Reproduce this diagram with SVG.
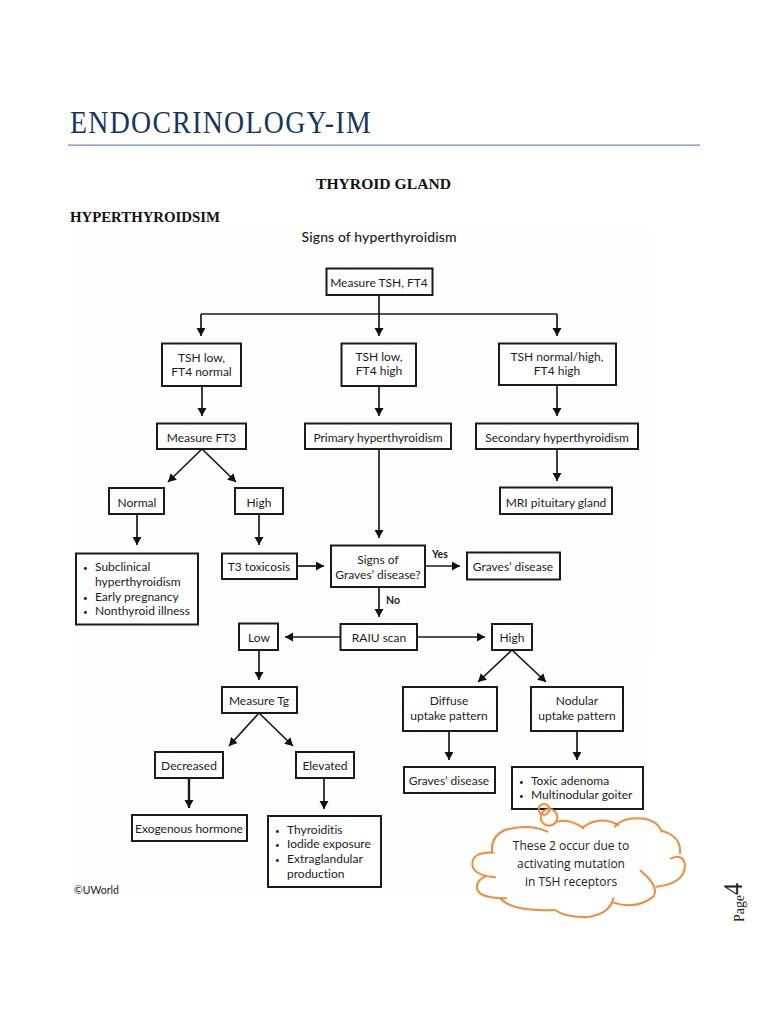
<svg xmlns="http://www.w3.org/2000/svg" width="768" height="1024" viewBox="0 0 768 1024">
<defs>
<marker id="ah" markerUnits="userSpaceOnUse" markerWidth="10" markerHeight="10" refX="8" refY="4.5" orient="auto"><path d="M0,0L8,4.5L0,9Z" fill="#111"/></marker>
</defs>
<style>
.b{fill:#fff;stroke:#1a1a1a;stroke-width:2}
.t{font-family:"Lato","Open Sans",sans-serif;font-size:12px;fill:#1c1c1c;text-anchor:middle;font-variant-ligatures:none;transform:translateY(.7px)}
.l{text-anchor:start}
.d{font-size:8px}
.y{font-weight:700;font-size:10.500px;text-anchor:start}
.c{fill:none;stroke:#1a1a1a;stroke-width:1.7;marker-end:url(#ah)}
.n{fill:none;stroke:#1a1a1a;stroke-width:1.7}
.h{font-family:"Liberation Serif",serif;font-weight:700;font-size:15px;fill:#111}
.o{fill:none;stroke:#f28c38;stroke-width:6;stroke-linecap:round}
</style>
<rect width="768" height="1024" fill="#fff"/>
<path d="M70 228H654V654H650V899H70Z" fill="#fefefe"/>
<text x="70" y="133" font-family="Liberation Serif,serif" font-size="32" fill="#17365d" style="letter-spacing:1.500px" textLength="302" lengthAdjust="spacingAndGlyphs">ENDOCRINOLOGY-IM</text>
<rect x="68" y="144.500" width="632" height="1.300" fill="#6f94c4"/>
<text class="h" x="316" y="189" textLength="135" lengthAdjust="spacingAndGlyphs">THYROID GLAND</text>
<text class="h" x="70" y="222" textLength="150" lengthAdjust="spacingAndGlyphs">HYPERTHYROIDSIM</text>
<text class="t" x="379" y="241" style="font-size:14px;font-weight:500" textLength="155">Signs of hyperthyroidism</text>
<g id="connectors">
<path class="n" d="M379 295V314M201 314H557"/>
<path class="c" d="M201 314V336"/><path class="c" d="M379 314V336"/><path class="c" d="M557 314V336"/>
<path class="c" d="M202 386V416"/><path class="c" d="M379 386V416"/><path class="c" d="M557 385V416"/>
<path class="c" d="M202 449L168 482"/><path class="c" d="M202 449L236 482"/>
<path class="c" d="M557 449V481"/>
<path class="c" d="M137 514V545"/><path class="c" d="M259 514V545"/>
<path class="c" d="M379 449V538"/>
<path class="c" d="M297 566H324"/><path class="c" d="M425 566H460"/>
<path class="c" d="M379 587V617"/>
<path class="c" d="M340 637H285"/><path class="c" d="M417 637H485"/>
<path class="c" d="M259 650V680"/>
<path class="c" d="M512 650L478 682"/><path class="c" d="M512 650L546 682"/>
<path class="c" d="M259 713L229 746"/><path class="c" d="M259 713L293 746"/>
<path class="c" d="M449 731V760"/><path class="c" d="M577 731V760"/>
<path class="c" d="M189 778V808" style="stroke-width:2.400"/><path class="c" d="M324 778V809"/>
</g>
<g id="n1"><rect class="b" x="326.500" y="268.500" width="106" height="26.500"/><text class="t" x="379" y="286">Measure TSH, FT4</text></g>
<g id="n2"><rect class="b" x="162" y="343.500" width="79" height="42.500"/><text class="t" x="201.500" y="361">TSH low,</text><text class="t" x="201.500" y="375">FT4 normal</text></g>
<g id="n3"><rect class="b" x="341.500" y="343.500" width="74.500" height="42.500"/><text class="t" x="379" y="360">TSH low,</text><text class="t" x="379" y="374">FT4 high</text></g>
<g id="n4"><rect class="b" x="499" y="343.500" width="117" height="41.500"/><text class="t" x="557" y="360">TSH normal/high,</text><text class="t" x="557" y="374">FT4 high</text></g>
<g id="n5"><rect class="b" x="157" y="423.500" width="89" height="25.500"/><text class="t" x="201.500" y="441">Measure FT3</text></g>
<g id="n6"><rect class="b" x="305" y="423.500" width="146" height="25.500"/><text class="t" x="378" y="441">Primary hyperthyroidism</text></g>
<g id="n7"><rect class="b" x="476" y="423.500" width="162" height="25.500"/><text class="t" x="557" y="441">Secondary hyperthyroidism</text></g>
<g id="n8"><rect class="b" x="109" y="488" width="55" height="26"/><text class="t" x="137" y="506">Normal</text></g>
<g id="n9"><rect class="b" x="235" y="488" width="48" height="26"/><text class="t" x="259" y="506">High</text></g>
<g id="n10"><rect class="b" x="500" y="487.500" width="112" height="26.500"/><text class="t" x="556" y="506">MRI pituitary gland</text></g>
<g id="n11"><rect class="b" x="76" y="553.500" width="122" height="71"/><text class="t l d" x="83" y="570">•</text><text class="t l" x="95" y="570">Subclinical</text><text class="t l" x="95" y="585">hyperthyroidism</text><text class="t l d" x="83" y="600">•</text><text class="t l" x="95" y="600">Early pregnancy</text><text class="t l d" x="83" y="614">•</text><text class="t l" x="95" y="614">Nonthyroid illness</text></g>
<g id="n12"><rect class="b" x="222" y="553.500" width="75" height="25.500"/><text class="t" x="259" y="570">T3 toxicosis</text></g>
<g id="n13"><rect class="b" x="331" y="545.500" width="94" height="41.500"/><text class="t" x="378" y="563">Signs of</text><text class="t" x="378" y="578">Graves’ disease?</text></g>
<text class="t y" x="432" y="557">Yes</text>
<text class="t y" x="386" y="603">No</text>
<g id="n14"><rect class="b" x="467" y="552.500" width="93" height="27"/><text class="t" x="513" y="570">Graves’ disease</text></g>
<g id="n15"><rect class="b" x="239" y="623.500" width="39" height="26.500"/><text class="t" x="259" y="641">Low</text></g>
<g id="n16"><rect class="b" x="340.500" y="624" width="76.500" height="26"/><text class="t" x="379" y="641">RAIU scan</text></g>
<g id="n17"><rect class="b" x="492" y="624" width="40" height="26"/><text class="t" x="512" y="641">High</text></g>
<g id="n18"><rect class="b" x="222" y="687" width="75" height="26"/><text class="t" x="259" y="704">Measure Tg</text></g>
<g id="n19"><rect class="b" x="403" y="687" width="94" height="44"/><text class="t" x="449" y="704">Diffuse</text><text class="t" x="449" y="719">uptake pattern</text></g>
<g id="n20"><rect class="b" x="531" y="687" width="92" height="44"/><text class="t" x="577" y="704">Nodular</text><text class="t" x="577" y="719">uptake pattern</text></g>
<g id="n21"><rect class="b" x="155" y="752" width="68" height="26"/><text class="t" x="189" y="769">Decreased</text></g>
<g id="n22"><rect class="b" x="296" y="752" width="58" height="26"/><text class="t" x="325" y="769">Elevated</text></g>
<g id="n23"><rect class="b" x="404" y="767" width="91" height="26"/><text class="t" x="449" y="784">Graves’ disease</text></g>
<g id="n24"><rect class="b" x="512" y="767" width="131" height="42"/><text class="t l d" x="519" y="784">•</text><text class="t l" x="531" y="784">Toxic adenoma</text><text class="t l d" x="519" y="798">•</text><text class="t l" x="531" y="798">Multinodular goiter</text></g>
<g id="n25"><rect class="b" x="132" y="815" width="115" height="26"/><text class="t" x="189" y="832">Exogenous hormone</text></g>
<g id="n26"><rect class="b" x="268" y="816" width="113" height="71"/><text class="t l d" x="275" y="833">•</text><text class="t l" x="287" y="833">Thyroiditis</text><text class="t l d" x="275" y="847">•</text><text class="t l" x="287" y="847">Iodide exposure</text><text class="t l d" x="275" y="862">•</text><text class="t l" x="287" y="862">Extraglandular</text><text class="t l" x="287" y="877">production</text></g>
<text x="74" y="894" font-family="Lato,sans-serif" font-size="10.500" fill="#222">©UWorld</text>
<g id="cloud">
<g transform="translate(440 740) scale(.3333)">
<path class="o" d="M322 275Q270 250 195 270Q150 290 157 338M160 338Q95 335 97 375Q100 405 165 412M135 410Q105 425 112 450Q125 475 198 475M183 478Q220 515 340 510M345 510Q380 535 450 530Q510 520 520 475M520 488Q590 510 640 470Q660 440 602 392M650 440Q735 430 735 375Q730 340 693 355M720 340Q725 290 665 272M665 275Q650 235 590 235Q545 235 525 260M535 255Q480 225 428 262M430 265Q390 235 350 245"/>
<circle class="o" cx="327" cy="232" r="25"/><circle class="o" cx="312" cy="208" r="16"/>
</g>
<text font-family="Open Sans,sans-serif" font-size="12" fill="#222" text-anchor="middle"><tspan x="571" y="850">These 2 occur due to</tspan><tspan x="571" y="868">activating mutation</tspan><tspan x="571" y="886">in TSH receptors</tspan></text>
</g>
<g transform="translate(744 922) rotate(-90)"><text font-family="Liberation Serif,serif" font-size="14" fill="#222" textLength="27" lengthAdjust="spacingAndGlyphs">Page</text><text x="27" y="-2" font-family="Liberation Serif,serif" font-size="28" fill="#222" textLength="12" lengthAdjust="spacingAndGlyphs">4</text></g>
</svg>
